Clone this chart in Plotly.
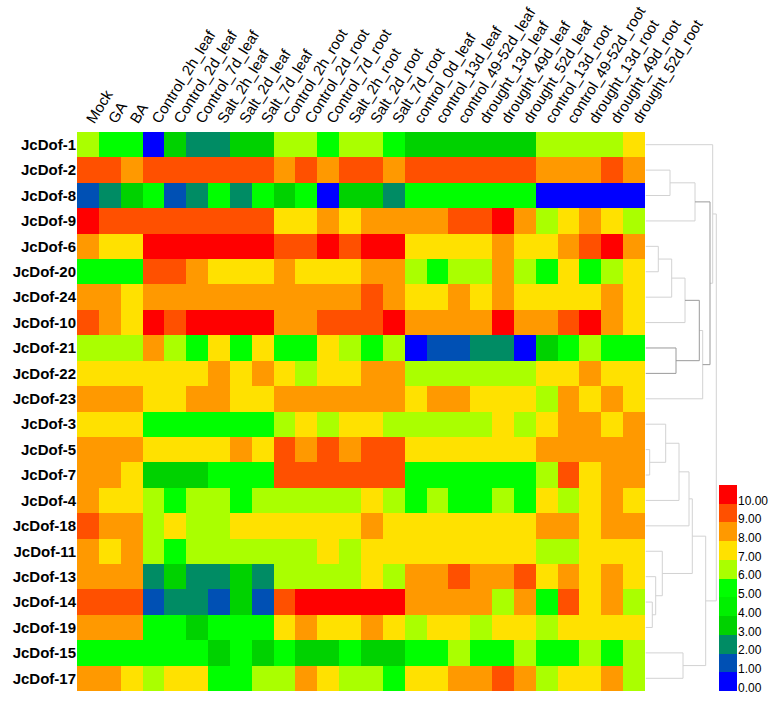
import plotly.graph_objects as go

columns = ["Mock", "GA", "BA", "Control_2h_leaf", "Control_2d_leaf", "Control_7d_leaf",
           "Salt_2h_leaf", "Salt_2d_leaf", "Salt_7d_leaf", "Control_2h_root", "Control_2d_root",
           "Control_7d_root", "Salt_2h_root", "Salt_2d_root", "Salt_7d_root", "control_0d_leaf",
           "control_13d_leaf", "control_49-52d_leaf", "drought_13d_leaf", "drought_49d_leaf",
           "drought_52d_leaf", "control_13d_root", "control_49-52d_root", "drought_13d_root",
           "drought_49d_root", "drought_52d_root"]

genes = ["JcDof-1", "JcDof-2", "JcDof-8", "JcDof-9", "JcDof-6", "JcDof-20", "JcDof-24",
         "JcDof-10", "JcDof-21", "JcDof-22", "JcDof-23", "JcDof-3", "JcDof-5", "JcDof-7",
         "JcDof-4", "JcDof-18", "JcDof-11", "JcDof-13", "JcDof-14", "JcDof-19", "JcDof-15",
         "JcDof-17"]

values = [
    [6, 5, 5, 0, 3, 2, 2, 3, 3, 6, 6, 5, 6, 6, 5, 3, 3, 3, 3, 3, 3, 6, 6, 6, 6, 7],
    [9, 9, 8, 9, 9, 9, 9, 9, 9, 8, 9, 8, 9, 9, 8, 9, 9, 9, 9, 9, 9, 8, 8, 8, 9, 8],
    [1, 2, 3, 5, 1, 2, 5, 2, 5, 3, 5, 0, 3, 3, 2, 5, 5, 5, 5, 5, 5, 0, 0, 0, 0, 0],
    [10, 9, 9, 9, 9, 9, 9, 9, 9, 7, 7, 8, 7, 8, 8, 8, 8, 9, 9, 10, 8, 6, 7, 8, 7, 6],
    [8, 7, 7, 10, 10, 10, 10, 10, 10, 9, 9, 10, 9, 10, 10, 7, 7, 7, 7, 8, 7, 7, 8, 9, 10, 8],
    [5, 5, 5, 9, 9, 8, 7, 7, 7, 8, 7, 7, 7, 8, 8, 6, 5, 6, 6, 8, 6, 5, 7, 5, 6, 7],
    [8, 8, 7, 8, 8, 8, 8, 8, 8, 8, 8, 8, 8, 9, 8, 7, 7, 8, 7, 8, 7, 7, 7, 7, 8, 7],
    [9, 8, 7, 10, 9, 10, 10, 10, 10, 8, 8, 9, 9, 9, 10, 8, 8, 8, 8, 10, 8, 8, 9, 10, 8, 7],
    [6, 6, 6, 8, 6, 5, 7, 5, 7, 5, 5, 7, 6, 5, 6, 0, 1, 1, 2, 2, 0, 3, 5, 6, 5, 5],
    [7, 7, 7, 7, 7, 7, 8, 7, 8, 7, 6, 7, 7, 8, 8, 6, 6, 6, 6, 6, 6, 7, 7, 8, 7, 7],
    [8, 8, 8, 7, 7, 8, 8, 7, 7, 8, 8, 8, 8, 8, 8, 7, 8, 8, 7, 7, 7, 6, 8, 7, 8, 7],
    [7, 7, 7, 5, 5, 5, 5, 5, 5, 6, 7, 6, 7, 7, 6, 6, 6, 6, 6, 7, 6, 7, 8, 8, 7, 8],
    [8, 8, 8, 7, 7, 7, 7, 8, 7, 9, 8, 9, 8, 9, 9, 7, 7, 7, 7, 7, 7, 8, 8, 8, 8, 8],
    [8, 8, 7, 3, 3, 3, 5, 5, 5, 9, 9, 9, 9, 9, 9, 5, 5, 5, 5, 5, 5, 6, 9, 7, 8, 8],
    [8, 7, 7, 6, 5, 6, 6, 5, 6, 6, 6, 6, 6, 7, 6, 5, 6, 5, 5, 6, 5, 7, 6, 7, 8, 7],
    [9, 8, 8, 6, 7, 6, 6, 7, 7, 7, 7, 7, 7, 8, 7, 7, 7, 7, 7, 7, 7, 8, 8, 7, 8, 8],
    [8, 7, 8, 6, 5, 6, 6, 6, 6, 6, 6, 7, 6, 7, 7, 7, 7, 7, 7, 7, 7, 6, 6, 7, 7, 7],
    [8, 8, 8, 2, 3, 2, 2, 3, 2, 6, 6, 6, 6, 7, 6, 8, 8, 9, 8, 8, 9, 7, 8, 7, 8, 7],
    [9, 9, 9, 1, 2, 2, 1, 3, 1, 9, 10, 10, 10, 10, 10, 8, 8, 8, 8, 6, 8, 5, 9, 7, 8, 6],
    [8, 8, 8, 5, 5, 3, 5, 5, 5, 7, 8, 7, 7, 8, 7, 6, 7, 7, 6, 7, 7, 6, 7, 7, 7, 7],
    [5, 5, 5, 5, 5, 5, 3, 5, 3, 5, 3, 3, 5, 3, 3, 5, 5, 6, 5, 5, 6, 5, 5, 6, 5, 6],
    [8, 8, 7, 6, 7, 7, 5, 5, 6, 6, 8, 7, 6, 6, 5, 7, 7, 8, 8, 9, 8, 6, 7, 7, 8, 6],
]

legend_levels = [0, 1, 2, 3, 4, 5, 6, 7, 8, 9, 10]
legend_labels = ["0.00", "1.00", "2.00", "3.00", "4.00", "5.00", "6.00", "7.00", "8.00", "9.00", "10.00"]
level_colors = ["#0000FF", "#0050B4", "#008C64", "#00D200", "#00F000", "#00FF00",
                "#AAFF00", "#FFE100", "#FF9900", "#FF5000", "#FF0000"]

# dendrogram merges: (child a, child b, linkage distance)
merges = [
    ("JcDof-2", "JcDof-8", 24.5),    # m0
    ("m0", "JcDof-9", 49.5),         # m1
    ("JcDof-6", "JcDof-20", 12.8),   # m2
    ("m2", "JcDof-24", 26.2),        # m3
    ("m3", "JcDof-10", 39.5),        # m4
    ("JcDof-21", "JcDof-22", 30.5),  # m5
    ("m4", "m5", 53.8),              # m6
    ("m6", "JcDof-23", 57.2),        # m7
    ("m1", "m7", 64.5),              # m8
    ("JcDof-1", "m8", 67.2),         # m9
    ("JcDof-5", "JcDof-7", 4.2),     # m10
    ("JcDof-3", "m10", 20.2),        # m11
    ("m11", "JcDof-4", 33.5),        # m12
    ("m12", "JcDof-18", 43.5),       # m13
    ("JcDof-14", "JcDof-19", 6.8),   # m14
    ("JcDof-13", "m14", 10.2),       # m15
    ("JcDof-11", "m15", 16.8),       # m16
    ("m13", "m16", 46.8),            # m17
    ("JcDof-15", "JcDof-17", 37.5),  # m18
    ("m17", "m18", 60.2),            # m19
    ("m9", "m19", 70.8),             # m20
]
dark_merges = ["m5", "m6", "m8"]

# ---- colorscale (discrete, one band per level)
n = len(level_colors)
cs = []
for k, c in enumerate(level_colors):
    cs.append([k / n, c])
    cs.append([(k + 1) / n, c])

# ---- dendrogram geometry from merges
pos = {g: (float(i), 0.0) for i, g in enumerate(genes)}
light_x, light_y, dark_x, dark_y = [], [], [], []
for idx, (a, b, h) in enumerate(merges):
    name = "m%d" % idx
    ya, ha = pos[a]
    yb, hb = pos[b]
    seg_x = [ha, h, h, hb, None]
    seg_y = [ya, ya, yb, yb, None]
    if name in dark_merges:
        dark_x += seg_x
        dark_y += seg_y
    else:
        light_x += seg_x
        light_y += seg_y
    pos[name] = ((ya + yb) / 2.0, h)

W, H = 779, 703
font_family = "Liberation Sans, Arial, sans-serif"

fig = go.Figure()
fig.add_trace(go.Heatmap(z=values, x=columns, y=genes, colorscale=cs, zmin=-0.5, zmax=10.5,
                         showscale=False, xaxis="x", yaxis="y", hoverongaps=False))
fig.add_trace(go.Scatter(x=light_x, y=light_y, mode="lines", line=dict(color="#d2d2d2", width=1),
                         xaxis="x2", yaxis="y2", hoverinfo="skip", showlegend=False))
fig.add_trace(go.Scatter(x=dark_x, y=dark_y, mode="lines", line=dict(color="#9a9a9a", width=1),
                         xaxis="x2", yaxis="y2", hoverinfo="skip", showlegend=False))
fig.add_trace(go.Heatmap(z=[[v] for v in legend_levels], x=[0], y=legend_levels, colorscale=cs,
                         zmin=-0.5, zmax=10.5, showscale=False, xaxis="x3", yaxis="y3"))

hm_y_domain = [12 / H, 571 / H]
fig.update_layout(
    width=W, height=H,
    margin=dict(l=0, r=0, t=0, b=0, autoexpand=False),
    paper_bgcolor="white", plot_bgcolor="white",
    showlegend=False,
    font=dict(family=font_family, color="black"),
    xaxis=dict(domain=[77 / W, 645 / W], side="top", tickangle=-58, anchor="y", automargin=False,
               tickfont=dict(size=15, family=font_family, color="black"),
               showgrid=False, zeroline=False, ticks="", showline=False),
    yaxis=dict(domain=hm_y_domain, autorange="reversed", anchor="x", automargin=False,
               tickfont=dict(size=15, family=font_family, color="black", weight="bold"),
               showgrid=False, zeroline=False, ticks="", showline=False),
    xaxis2=dict(domain=[645.5 / W, 1.0], range=[0, 133.5], visible=False, anchor="y2"),
    yaxis2=dict(domain=hm_y_domain, range=[21.5, -0.5], visible=False, anchor="x2"),
    xaxis3=dict(domain=[719 / W, 737 / W], range=[-0.5, 0.5], visible=False, anchor="y3"),
    yaxis3=dict(domain=[12 / H, 218 / H], range=[-0.5, 10.5], side="right", anchor="x3",
                automargin=False,
                tickvals=[v - 0.32 for v in legend_levels], ticktext=legend_labels,
                tickfont=dict(size=12, family=font_family, color="black"),
                showgrid=False, zeroline=False, ticks="", showline=False),
)

fig.write_html("out.html", config={"displayModeBar": False},
               post_script="document.body.style.margin='0px';")
